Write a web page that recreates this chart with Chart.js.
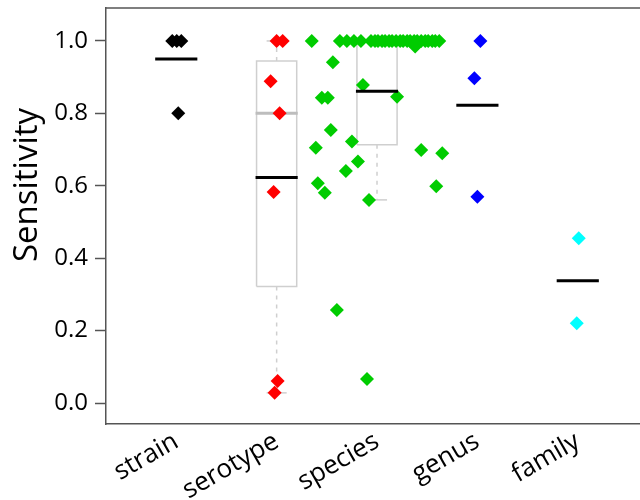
<!DOCTYPE html>
<html><head><meta charset="utf-8">
<script src="https://cdn.jsdelivr.net/npm/chart.js@4.4.1/dist/chart.umd.min.js"></script>
<style>html,body{margin:0;padding:0;background:#fff}#wrap{width:640px;height:500px}</style>
</head><body><div id="wrap"><canvas id="c" width="640" height="500"></canvas></div>
<script>
// ---- data ----
const categories = ['strain', 'serotype', 'species', 'genus', 'family'];
const yTitle = 'Sensitivity';
const yTicks = [0.0, 0.2, 0.4, 0.6, 0.8, 1.0];

const strainValues = [1, 1, 1, 0.80];
const strainJitter = [-0.04, 0.005, 0.05, 0.02];

const serotypeValues = [1, 1, 0.889, 0.80, 0.583, 0.061, 0.028];
const serotypeJitter = [0.00, 0.06, -0.06, 0.03, -0.03, 0.01, -0.02];

const speciesValues = [
  1, 1, 1, 1, 1, 1, 1, 1, 1, 1, 1, 1, 1, 1, 1, 1, 1, 1, 1, 1, 1, 1, 1, 1, 1,
  0.985, 0.941, 0.878, 0.846, 0.843, 0.843, 0.754, 0.722, 0.705, 0.699, 0.690,
  0.667, 0.641, 0.607, 0.599, 0.581, 0.561, 0.257, 0.066
];
const speciesJitter = [
  -0.65, -0.37, -0.30, -0.23, -0.16, -0.06, -0.02, 0.01, 0.05, 0.08, 0.12, 0.15, 0.19,
  0.23, 0.26, 0.30, 0.33, 0.37, 0.40, 0.44, 0.48, 0.51, 0.55, 0.58, 0.62,
  0.38, -0.44, -0.14, 0.20, -0.55, -0.49, -0.46, -0.25, -0.61, 0.44, 0.65,
  -0.19, -0.31, -0.59, 0.59, -0.52, -0.08, -0.40, -0.10
];

const genusValues = [1, 0.897, 0.570];
const genusJitter = [0.03, -0.03, 0.00];

const familyValues = [0.455, 0.220];
const familyJitter = [0.01, -0.01];

const groupValues = [strainValues, serotypeValues, speciesValues, genusValues, familyValues];
const groupJitter = [strainJitter, serotypeJitter, speciesJitter, genusJitter, familyJitter];
const boxGroups = ['serotype', 'species'];

// ---- styles ----
const pointColors = ['#000000', '#ff0000', '#00cc00', '#0000ff', '#00ffff'];
const boxColor = '#cfcfcf';
const medianColor = '#bdbdbd';
const axisColor = '#555555';
const FONT = '"Open Sans", "Noto Sans", sans-serif';
const BOX_HW = 0.2, STAPLE_HW = 0.1, MEAN_HW = 0.21;

// ---- helpers ----
function fivenum(arr) {
  const x = arr.slice().sort((a, b) => a - b);
  const n = x.length;
  const n4 = Math.floor((n + 3) / 2) / 2;
  const d = [1, n4, (n + 1) / 2, n + 1 - n4, n];
  return d.map(p => 0.5 * (x[Math.floor(p) - 1] + x[Math.ceil(p) - 1]));
}
function boxStats(arr) {
  const f = fivenum(arr);
  const iqr = f[3] - f[1];
  const lo = Math.min(...arr.filter(v => v >= f[1] - 1.5 * iqr));
  const hi = Math.max(...arr.filter(v => v <= f[3] + 1.5 * iqr));
  return { q1: f[1], med: f[2], q3: f[3], lo, hi };
}
const mean = a => a.reduce((s, v) => s + v, 0) / a.length;

function lineDs(pts, color, width, dash, order) {
  return {
    data: pts, showLine: true, borderColor: color, borderWidth: width,
    borderDash: dash || [], pointRadius: 0, fill: false, order: order, tension: 0
  };
}

const datasets = [];
categories.forEach((cat, i) => {
  const c = i + 1;
  const vals = groupValues[i];
  if (boxGroups.includes(cat)) {
    const s = boxStats(vals);
    datasets.push(lineDs([
      { x: c - BOX_HW, y: s.q1 }, { x: c + BOX_HW, y: s.q1 }, { x: c + BOX_HW, y: s.q3 },
      { x: c - BOX_HW, y: s.q3 }, { x: c - BOX_HW, y: s.q1 }], boxColor, 1.5, null, 3));
    datasets.push(lineDs([{ x: c, y: s.q1 }, { x: c, y: s.lo }], boxColor, 1.5, [4, 5], 3));
    datasets.push(lineDs([{ x: c, y: s.q3 }, { x: c, y: s.hi }], boxColor, 1.5, [4, 5], 3));
    datasets.push(lineDs([{ x: c - STAPLE_HW, y: s.lo }, { x: c + STAPLE_HW, y: s.lo }], boxColor, 1.5, null, 3));
    datasets.push(lineDs([{ x: c - STAPLE_HW, y: s.hi }, { x: c + STAPLE_HW, y: s.hi }], boxColor, 1.5, null, 3));
    datasets.push(lineDs([{ x: c - MEAN_HW, y: s.med }, { x: c + MEAN_HW, y: s.med }], medianColor, 3, null, 2));
  }
  datasets.push({
    data: vals.map((v, k) => ({ x: c + groupJitter[i][k], y: v })),
    pointStyle: 'rectRot', pointRadius: 7, pointBorderWidth: 0,
    pointBackgroundColor: pointColors[i], borderWidth: 0, order: 1
  });
  const m = mean(vals);
  datasets.push(lineDs([{ x: c - MEAN_HW, y: m }, { x: c + MEAN_HW, y: m }], '#000000', 3, null, 0));
});

const framePlugin = {
  id: 'frame',
  afterDraw(chart) {
    const { ctx, chartArea: a } = chart;
    ctx.save();
    ctx.strokeStyle = axisColor; ctx.lineWidth = 1.5;
    ctx.beginPath(); ctx.moveTo(a.left, a.top); ctx.lineTo(a.right, a.top); ctx.stroke();
    ctx.fillStyle = '#000';
    ctx.font = '33px ' + FONT;
    ctx.translate(37, 185);
    ctx.rotate(-Math.PI / 2);
    ctx.textAlign = 'center';
    ctx.textBaseline = 'alphabetic';
    ctx.fillText(yTitle, 0, 0);
    ctx.restore();
  }
};

new Chart(document.getElementById('c'), {
  type: 'scatter',
  data: { datasets },
  plugins: [framePlugin],
  options: {
    responsive: false, animation: false, devicePixelRatio: 1,
    layout: { autoPadding: false, padding: { top: 8, left: 0, right: 0, bottom: 0 } },
    plugins: { legend: { display: false }, tooltip: { enabled: false } },
    scales: {
      x: {
        type: 'linear', min: 0.30, max: 5.62,
        afterBuildTicks: s => { s.ticks = categories.map((_, i) => ({ value: i + 1 })); },
        ticks: {
          callback: v => categories[Math.round(v) - 1], autoSkip: false,
          minRotation: 30, maxRotation: 30, padding: 2,
          font: { family: FONT, size: 26 }, color: '#000'
        },
        grid: { drawOnChartArea: false, drawTicks: false },
        border: { display: true, color: axisColor, width: 1.5 },
        afterFit: s => { s.height = 76; s.paddingLeft = 0; s.paddingRight = 0; }
      },
      y: {
        min: -0.058, max: 1.091,
        afterBuildTicks: s => { s.ticks = yTicks.map(v => ({ value: v })); },
        ticks: {
          callback: v => v.toFixed(1), padding: 7,
          font: { family: FONT, size: 24 }, color: '#000'
        },
        grid: { drawOnChartArea: false, drawTicks: true, tickLength: 11, tickColor: axisColor, tickWidth: 1.5 },
        border: { display: true, color: axisColor, width: 1.5 },
        afterFit: s => { s.width = 106; s.paddingTop = 0; s.paddingBottom = 0; }
      }
    }
  }
});
</script></body></html>
